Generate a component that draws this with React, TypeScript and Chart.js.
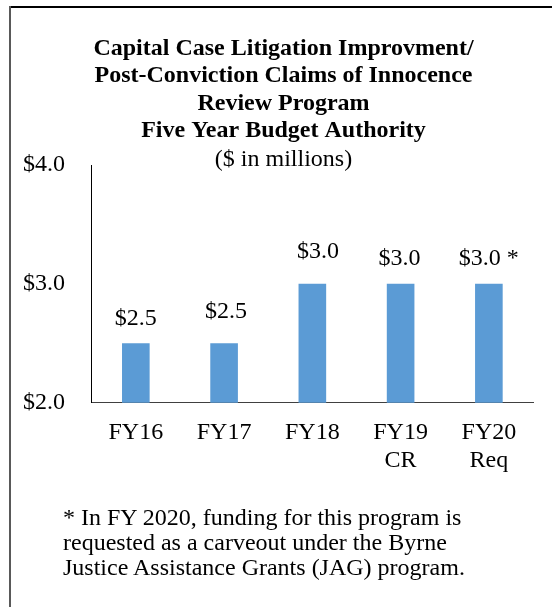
import React, { useEffect, useRef } from "react";
import { Chart, registerables } from "chart.js";

Chart.register(...registerables);

// ---- data ----
const categories: string[][] = [["FY16"], ["FY17"], ["FY18"], ["FY19", "CR"], ["FY20", "Req"]];
const budget: number[] = [2.5, 2.5, 3.0, 3.0, 3.0];
const valueNotes: string[] = ["", "", "", "", " *"];
const yTickValues: number[] = [2, 3, 4];
const titleLines: string[] = [
  "Capital Case Litigation Improvment/",
  "Post-Conviction Claims of Innocence",
  "Review Program",
  "Five Year Budget Authority",
];
const subtitleText = "($ in millions)";
const footnoteLines: string[] = [
  "* In FY 2020, funding for this program is",
  "requested as a carveout under the Byrne",
  "Justice Assistance Grants (JAG) program.",
];

// ---- styling ----
const FONT = "'Liberation Serif', 'Times New Roman', Times, serif";
const BAR_COLOR = "#5B9BD5";
const LINE_H = 1.1417;
// vertical gap (px) between a bar top and its value label centre, and small horizontal nudges
const labelLift = [25, 31.5, 32, 25.5, 25.5];
const labelShift = [0, 2, 5.6, -1, 0];
// left edge of the box the title block is centred in
const TITLE_BOX_LEFT = 34;

const valueLabelPlugin = {
  id: "valueLabels",
  afterDatasetsDraw(chart: any) {
    const ctx = chart.ctx;
    const meta = chart.getDatasetMeta(0);
    ctx.save();
    ctx.font = `24px ${FONT}`;
    ctx.fillStyle = "#000";
    ctx.textAlign = "center";
    ctx.textBaseline = "middle";
    meta.data.forEach((bar: any, i: number) => {
      const txt = "$" + budget[i].toFixed(1) + valueNotes[i];
      ctx.fillText(txt, bar.x + labelShift[i], bar.y - labelLift[i]);
    });
    ctx.restore();
  },
};

const titleBoxPlugin = {
  id: "titleBox",
  afterLayout(chart: any) {
    chart.boxes.forEach((b: any) => {
      if (!b.axis && b.options && b.options.text !== undefined && b.position === "top") {
        b.left = TITLE_BOX_LEFT;
      }
    });
  },
};

export default function App() {
  const canvasRef = useRef<HTMLCanvasElement | null>(null);

  useEffect(() => {
    if (!canvasRef.current) return;
    const chart = new Chart(canvasRef.current, {
      type: "bar",
      data: {
        labels: categories,
        datasets: [
          {
            data: budget,
            backgroundColor: BAR_COLOR,
            borderWidth: 0,
            barPercentage: 0.313,
            categoryPercentage: 1,
          },
        ],
      },
      options: {
        responsive: false,
        animation: false,
        devicePixelRatio: 1,
        layout: { padding: { left: 14, right: 19, top: 0, bottom: 0 } },
        plugins: {
          legend: { display: false },
          tooltip: { enabled: false },
          title: {
            display: true,
            text: titleLines,
            color: "#000",
            font: { family: FONT, size: 24, weight: "bold", lineHeight: LINE_H },
            padding: { top: 34.9, bottom: 0 },
          },
          subtitle: {
            display: true,
            text: subtitleText,
            color: "#000",
            font: { family: FONT, size: 24, weight: "normal", lineHeight: LINE_H },
            padding: { top: 1.7, bottom: -8.6 },
          },
        },
        scales: {
          x: {
            grid: { display: false, drawTicks: false },
            border: { display: true, color: "#404040", width: 1 },
            ticks: {
              color: "#000",
              font: { family: FONT, size: 24, lineHeight: LINE_H },
              padding: 16.5,
              maxRotation: 0,
              autoSkip: false,
            },
            afterFit: (s: any) => {
              s.height = 204.3;
            },
          },
          y: {
            min: 2,
            max: 4,
            grid: { display: false, drawTicks: false },
            border: { display: true, color: "#000", width: 1 },
            ticks: {
              color: "#000",
              font: { family: FONT, size: 24 },
              padding: 26.7,
              callback: (v: any) => "$" + Number(v).toFixed(1),
            },
            afterBuildTicks: (s: any) => {
              s.ticks = yTickValues.map((v) => ({ value: v }));
            },
            afterFit: (s: any) => {
              s.width = 77.7;
            },
          },
        },
      },
      plugins: [valueLabelPlugin, titleBoxPlugin],
    } as any);
    return () => chart.destroy();
  }, []);

  return (
    <div style={{ position: "fixed", left: 0, top: 0, width: 552, height: 607, background: "#fff" }}>
      <div
        style={{
          position: "absolute",
          left: 9,
          top: 6,
          width: 543,
          height: 0,
          borderTop: "2px solid #000",
        }}
      />
      <div
        style={{
          position: "absolute",
          left: 9,
          top: 6,
          width: 0,
          height: 601,
          borderLeft: "2px solid #595959",
        }}
      />
      <canvas
        ref={canvasRef}
        width={552}
        height={607}
        style={{ position: "absolute", left: 0, top: 0, width: 552, height: 607 }}
      />
      <div
        style={{
          position: "absolute",
          left: 63,
          top: 505,
          fontFamily: FONT,
          fontSize: 24,
          lineHeight: "25px",
          color: "#000",
          whiteSpace: "pre",
        }}
      >
        {footnoteLines.join("\n")}
      </div>
    </div>
  );
}
